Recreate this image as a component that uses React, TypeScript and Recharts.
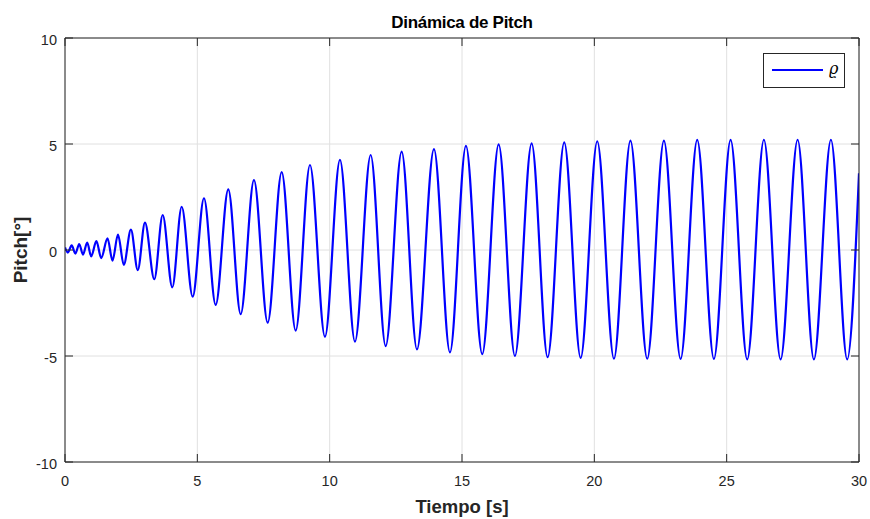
import React from 'react';
import { LineChart, Line, XAxis, YAxis, CartesianGrid, Legend } from 'recharts';

// time (s) of start, each local extreme, and end of the trace
const tiempo = [
  0, 0.106, 0.253, 0.393, 0.536, 0.68, 0.839, 0.99, 1.186, 1.368, 1.606, 1.795, 2.002, 2.221, 2.49, 2.75,
  3.022, 3.374, 3.691, 4.054, 4.409, 4.824, 5.251, 5.693, 6.169, 6.638, 7.14, 7.658, 8.187, 8.716, 9.256,
  9.822, 10.389, 10.956, 11.549, 12.116, 12.72, 13.298, 13.941, 14.545, 15.149, 15.765, 16.385, 17.0,
  17.631, 18.236, 18.863, 19.483, 20.11, 20.741, 21.364, 21.999, 22.629, 23.26, 23.887, 24.518, 25.149,
  25.776, 26.407, 27.038, 27.681, 28.296, 28.939, 29.554, 30,
];
// pitch (deg) at those times
const pitch = [
  0.12, -0.12, 0.22, -0.17, 0.28, -0.22, 0.35, -0.3, 0.42, -0.38, 0.55, -0.5, 0.73, -0.7, 0.96, -0.95,
  1.29, -1.38, 1.65, -1.76, 2.04, -2.2, 2.44, -2.59, 2.86, -3.03, 3.3, -3.43, 3.67, -3.8, 4.01,
  -4.09, 4.25, -4.32, 4.48, -4.53, 4.64, -4.69, 4.76, -4.83, 4.91, -4.91, 4.98, -5.0,
  5.03, -5.06, 5.08, -5.09, 5.13, -5.13, 5.16, -5.13, 5.16, -5.14, 5.19, -5.14, 5.19,
  -5.16, 5.2, -5.16, 5.2, -5.16, 5.2, -5.16, 3.62,
];
const xTicks = [0, 5, 10, 15, 20, 25, 30];
const yTicks = [-10, -5, 0, 5, 10];

const data = tiempo.map((t, i) => ({ t, p: pitch[i] }));

const FONT = '"Liberation Sans", Arial, Helvetica, sans-serif';
const AX = '#262626';

const LegendBox = (props: any) => {
  const item = props.payload && props.payload[0];
  return (
    <div
      style={{
        boxSizing: 'border-box',
        width: 82,
        height: 35,
        border: `1px solid ${AX}`,
        background: '#fff',
        position: 'relative',
      }}
    >
      <svg width={80} height={33} style={{ position: 'absolute', left: 0, top: 0 }}>
        <line x1={8} x2={59} y1={16} y2={16} stroke={item ? item.color : '#0000ff'} strokeWidth={2.2} />
      </svg>
      <span
        style={{
          position: 'absolute',
          left: 65,
          top: 5,
          fontFamily: '"DejaVu Serif", "Liberation Serif", serif',
          fontStyle: 'italic',
          fontSize: 16,
          lineHeight: '20px',
          color: '#000',
        }}
      >
        {item ? item.value : 'ϱ'}
      </span>
    </div>
  );
};

export default function App() {
  const tickStyle = { fontSize: 14.5, fill: AX, fontFamily: FONT };
  return (
    <div style={{ position: 'absolute', left: 0, top: 0, width: 870, height: 519, background: '#fff' }}>
      <LineChart
        width={870}
        height={519}
        data={data}
        margin={{ top: 37, right: 10, bottom: 0, left: 0 }}
        style={{ fontFamily: FONT }}
      >
        <CartesianGrid stroke="#e0e0e0" strokeWidth={1} />
        <XAxis
          dataKey="t"
          type="number"
          domain={[0, 30]}
          ticks={xTicks}
          interval={0}
          height={57}
          tickSize={-8}
          tickMargin={21.5}
          tick={tickStyle}
          axisLine={{ stroke: AX }}
          tickLine={{ stroke: AX }}
          allowDataOverflow
          label={{
            value: 'Tiempo [s]',
            position: 'insideBottom',
            offset: 6,
            style: { fontSize: 18.5, fontWeight: 'bold', fill: AX, fontFamily: FONT },
          }}
        />
        <XAxis
          xAxisId="top"
          orientation="top"
          dataKey="t"
          type="number"
          domain={[0, 30]}
          ticks={xTicks}
          interval={0}
          height={1}
          tickSize={-8}
          tickFormatter={() => ''}
          axisLine={{ stroke: AX }}
          tickLine={{ stroke: AX }}
          allowDataOverflow
          label={{
            value: 'Dinámica de Pitch',
            position: 'top',
            offset: 9,
            style: { fontSize: 17, letterSpacing: -0.3, fontWeight: 'bold', fill: '#000', fontFamily: FONT },
          }}
        />
        <YAxis
          type="number"
          domain={[-10, 10]}
          ticks={yTicks}
          interval={0}
          width={65}
          tickSize={-8}
          tickMargin={16}
          tick={{ ...tickStyle, dy: 1.5 }}
          axisLine={{ stroke: AX }}
          tickLine={{ stroke: AX }}
          allowDataOverflow
          label={{
            value: 'Pitch[°]',
            angle: -90,
            position: 'insideLeft',
            offset: 20,
            style: { fontSize: 19, fontWeight: 'bold', fill: AX, fontFamily: FONT, textAnchor: 'middle' },
          }}
        />
        <YAxis
          yAxisId="right"
          orientation="right"
          type="number"
          domain={[-10, 10]}
          ticks={yTicks}
          interval={0}
          width={1}
          tickSize={-8}
          tickFormatter={() => ''}
          axisLine={{ stroke: AX }}
          tickLine={{ stroke: AX }}
          allowDataOverflow
        />
        <Legend
          layout="horizontal"
          align="center"
          verticalAlign="middle"
          content={<LegendBox />}
          wrapperStyle={{ left: 763, top: 53, width: 82, height: 35 }}
        />
        <Line
          type="monotone"
          dataKey="p"
          name="ϱ"
          stroke="#0000ff"
          strokeWidth={2.2}
          dot={false}
          activeDot={false}
          isAnimationActive={false}
        />
      </LineChart>
    </div>
  );
}
